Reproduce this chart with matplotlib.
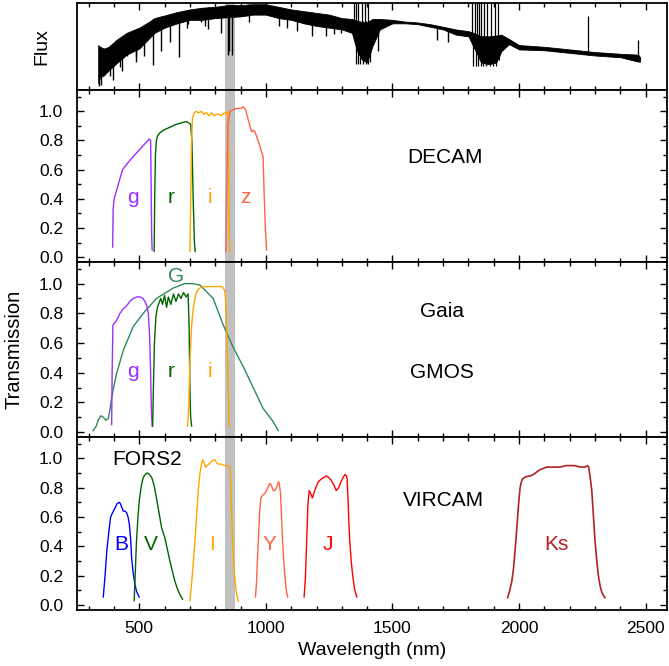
import matplotlib.pyplot as plt
import numpy as np
from matplotlib.ticker import MultipleLocator

plt.rcParams['font.family'] = ['Liberation Sans', 'DejaVu Sans']

# ---- stellar spectrum (arbitrary flux units), envelope of the noisy trace
spec_wl = [338, 345, 360, 380, 410, 450, 500, 540, 560, 600, 650, 700, 750, 800,
           850, 900, 950, 1000, 1050, 1100, 1150, 1200, 1250, 1300, 1340, 1360,
           1380, 1400, 1420, 1450, 1500, 1550, 1600, 1650, 1700, 1750, 1800,
           1820, 1850, 1880, 1910, 1930, 1960, 2000, 2100, 2200, 2300, 2400,
           2470, 2478]
spec_hi = [0.52, 0.50, 0.48, 0.50, 0.58, 0.66, 0.72, 0.79, 0.83, 0.86, 0.90,
           0.93, 0.95, 0.96, 0.98, 0.98, 0.99, 0.99, 0.96, 0.93, 0.91, 0.89,
           0.87, 0.83, 0.82, 0.80, 0.78, 0.78, 0.82, 0.82, 0.81, 0.79, 0.78,
           0.76, 0.73, 0.70, 0.68, 0.66, 0.62, 0.62, 0.63, 0.64, 0.59, 0.52,
           0.50, 0.47, 0.44, 0.42, 0.41, 0.38]
spec_lo = [0.08, 0.15, 0.17, 0.23, 0.31, 0.41, 0.48, 0.60, 0.66, 0.72, 0.77,
           0.81, 0.81, 0.83, 0.84, 0.85, 0.87, 0.87, 0.83, 0.81, 0.77, 0.74,
           0.72, 0.70, 0.66, 0.45, 0.35, 0.32, 0.50, 0.70, 0.77, 0.77, 0.76,
           0.73, 0.70, 0.64, 0.62, 0.50, 0.32, 0.30, 0.32, 0.45, 0.53, 0.47,
           0.46, 0.43, 0.40, 0.38, 0.33, 0.33]
# absorption lines (minimum flux)
dip_wl = [342, 350, 386, 395, 423, 430, 452, 486, 488, 517, 554, 587, 620, 656,
          687, 692, 743, 760, 773, 824, 850, 854, 866, 933, 1050, 1083, 1122,
          1181, 1239, 1268, 1297, 1443, 1676, 1720]
dip_lo = [0.05, 0.06, 0.16, 0.12, 0.27, 0.22, 0.39, 0.38, 0.33, 0.40, 0.29,
          0.45, 0.56, 0.38, 0.72, 0.76, 0.78, 0.74, 0.70, 0.66, 0.41, 0.45,
          0.41, 0.78, 0.74, 0.72, 0.68, 0.62, 0.63, 0.65, 0.66, 0.45, 0.58, 0.56]
# telluric residuals and emission spikes
tell_wl = [1350, 1355, 1357, 1362, 1365, 1370, 1378, 1385, 1392, 1395, 1403,
           1405, 1410, 1815, 1818, 1825, 1830, 1833, 1838, 1842, 1848, 1850,
           1858, 1862, 1870, 1875, 1885, 1890, 1898, 1905, 1910, 1915, 1920,
           2271, 2471]
tell_lo = [0.60, 0.30, 0.55, 0.30, 0.50, 0.30, 0.45, 0.30, 0.45, 0.30, 0.50,
           0.30, 0.32, 0.55, 0.28, 0.50, 0.28, 0.45, 0.28, 0.40, 0.28, 0.40,
           0.28, 0.40, 0.28, 0.40, 0.28, 0.40, 0.28, 0.45, 0.28, 0.50, 0.35,
           0.45, 0.35]
tell_hi = [1.05, 0.80, 1.05, 0.80, 1.05, 0.80, 1.05, 0.80, 1.05, 0.80, 1.05,
           0.80, 0.80, 1.05, 0.62, 1.05, 0.62, 1.05, 0.62, 1.05, 0.62, 1.05,
           0.62, 1.05, 0.62, 1.05, 0.62, 1.05, 0.62, 1.05, 0.62, 1.05, 0.62,
           0.86, 0.58]

# ---- DECam
decam_g_wl = [395, 397, 401, 414, 434, 461, 487, 513, 539, 545, 547, 549, 551]
decam_g_t = [0.07, 0.33, 0.40, 0.48, 0.60, 0.66, 0.71, 0.76, 0.81, 0.80, 0.50, 0.15, 0.05]
decam_r_wl = [559, 561, 564, 568, 572, 580, 595, 620, 645, 665, 685, 697, 703,
              708, 713, 718, 721]
decam_r_t = [0.04, 0.40, 0.70, 0.80, 0.83, 0.85, 0.87, 0.89, 0.91, 0.92, 0.93,
             0.92, 0.91, 0.80, 0.40, 0.10, 0.04]
decam_i_wl = [700, 703, 706, 710, 715, 722, 735, 745, 755, 765, 775, 785, 795,
              805, 815, 825, 835, 845, 850, 853, 856, 858]
decam_i_t = [0.04, 0.35, 0.75, 0.95, 0.98, 1.00, 0.99, 1.00, 0.98, 0.99, 0.97,
             0.99, 0.97, 0.98, 0.98, 0.97, 0.99, 0.98, 1.00, 0.60, 0.15, 0.04]
decam_z_wl = [842, 845, 850, 858, 870, 884, 900, 911, 920, 926, 934, 943, 950,
              957, 965, 975, 983, 989, 993, 998, 1003]
decam_z_t = [0.04, 0.40, 0.90, 1.00, 1.01, 1.02, 1.02, 1.03, 1.01, 0.97, 0.92,
             0.86, 0.87, 0.86, 0.82, 0.77, 0.72, 0.69, 0.45, 0.20, 0.05]

# ---- Gaia G and GMOS
gaia_g_wl = [318, 330, 338, 348, 358, 368, 378, 385, 391, 400, 410, 437, 476,
             516, 568, 634, 680, 710, 740, 792, 832, 871, 911, 950, 989, 1029, 1049]
gaia_g_t = [0.01, 0.04, 0.08, 0.11, 0.10, 0.08, 0.09, 0.16, 0.23, 0.31, 0.39,
            0.55, 0.71, 0.80, 0.90, 0.97, 1.00, 1.00, 0.99, 0.90, 0.72, 0.57,
            0.44, 0.30, 0.16, 0.07, 0.01]
gmos_g_wl = [391, 393, 396, 400, 410, 424, 437, 450, 463, 476, 490, 503, 515,
             522, 530, 536, 541, 545, 548, 551]
gmos_g_t = [0.05, 0.40, 0.72, 0.73, 0.75, 0.80, 0.83, 0.85, 0.88, 0.90, 0.91,
            0.91, 0.90, 0.88, 0.85, 0.80, 0.65, 0.40, 0.15, 0.04]
gmos_r_wl = [553, 556, 560, 566, 572, 578, 585, 592, 600, 608, 615, 625, 635,
             645, 655, 665, 675, 685, 693, 697, 700, 703, 707]
gmos_r_t = [0.04, 0.30, 0.60, 0.78, 0.84, 0.87, 0.90, 0.86, 0.92, 0.84, 0.91,
            0.86, 0.93, 0.88, 0.93, 0.90, 0.94, 0.91, 0.93, 0.70, 0.30, 0.10, 0.04]
gmos_i_wl = [691, 695, 700, 707, 713, 720, 726, 733, 739, 750, 770, 790, 810,
             825, 832, 838, 841, 844, 847, 851, 855]
gmos_i_t = [0.04, 0.15, 0.48, 0.72, 0.83, 0.90, 0.94, 0.96, 0.97, 0.98, 0.98,
            0.98, 0.98, 0.98, 0.97, 0.95, 0.89, 0.75, 0.60, 0.30, 0.04]

# ---- FORS2 and VIRCAM
fors_b_wl = [358, 365, 372, 380, 387, 395, 404, 412, 421, 426, 430, 437, 444,
             450, 456, 461, 466, 470, 476, 483, 490, 500]
fors_b_t = [0.055, 0.20, 0.37, 0.50, 0.60, 0.63, 0.66, 0.69, 0.70, 0.69, 0.67,
            0.64, 0.64, 0.63, 0.60, 0.55, 0.45, 0.32, 0.22, 0.14, 0.09, 0.055]
fors_v_wl = [480, 484, 489, 495, 500, 508, 516, 524, 532, 540, 549, 558, 568,
             578, 588, 595, 601, 611, 621, 631, 641, 651, 661, 671]
fors_v_t = [0.03, 0.20, 0.43, 0.60, 0.71, 0.81, 0.87, 0.89, 0.90, 0.89, 0.87,
            0.82, 0.73, 0.63, 0.53, 0.49, 0.46, 0.38, 0.30, 0.23, 0.16, 0.11,
            0.07, 0.04]
fors_i_wl = [700, 707, 714, 720, 727, 733, 739, 745, 750, 756, 762, 768, 775,
             785, 799, 805, 812, 825, 838, 850, 858, 861, 864, 868, 874, 882, 891]
fors_i_t = [0.03, 0.15, 0.30, 0.43, 0.62, 0.78, 0.89, 0.95, 0.99, 0.97, 0.94,
            0.95, 0.96, 0.98, 0.99, 0.97, 0.96, 0.96, 0.95, 0.95, 0.94, 0.85,
            0.66, 0.45, 0.25, 0.10, 0.025]
vir_y_wl = [959, 963, 966, 970, 975, 980, 988, 996, 1005, 1016, 1023, 1029,
            1036, 1042, 1048, 1051, 1055, 1058, 1062, 1066, 1070, 1075, 1080, 1086]
vir_y_t = [0.055, 0.15, 0.28, 0.43, 0.62, 0.73, 0.75, 0.76, 0.79, 0.83, 0.81,
           0.78, 0.78, 0.80, 0.83, 0.84, 0.80, 0.76, 0.60, 0.43, 0.32, 0.20,
           0.11, 0.055]
vir_j_wl = [1151, 1156, 1161, 1166, 1171, 1177, 1184, 1195, 1207, 1220, 1230,
            1239, 1248, 1258, 1268, 1278, 1288, 1297, 1305, 1313, 1318, 1321,
            1325, 1328, 1332, 1337, 1343, 1350, 1359]
vir_j_t = [0.055, 0.18, 0.43, 0.68, 0.78, 0.76, 0.73, 0.79, 0.84, 0.86, 0.87,
           0.88, 0.87, 0.85, 0.82, 0.78, 0.80, 0.84, 0.87, 0.89, 0.88, 0.86,
           0.70, 0.55, 0.42, 0.30, 0.20, 0.11, 0.055]
vir_ks_wl = [1955, 1963, 1971, 1978, 1984, 1990, 1995, 2000, 2004, 2009, 2014,
             2022, 2030, 2045, 2057, 2080, 2109, 2135, 2162, 2185, 2201, 2220,
             2241, 2260, 2270, 2275, 2278, 2283, 2287, 2293, 2300, 2307, 2313,
             2320, 2326, 2333, 2339]
vir_ks_t = [0.05, 0.10, 0.16, 0.25, 0.37, 0.50, 0.62, 0.73, 0.80, 0.84, 0.86,
            0.87, 0.876, 0.88, 0.89, 0.92, 0.94, 0.94, 0.94, 0.95, 0.95, 0.95,
            0.94, 0.94, 0.95, 0.94, 0.90, 0.84, 0.78, 0.62, 0.43, 0.30, 0.20,
            0.13, 0.09, 0.065, 0.05]

# grey band (Ca triplet region)
band = (840, 880)


def style_axis(ax):
    ax.set_xlim(254, 2584)
    ax.xaxis.set_major_locator(MultipleLocator(500))
    ax.xaxis.set_minor_locator(MultipleLocator(100))
    ax.tick_params(which='both', direction='in', top=True, right=True,
                   labelsize=12.5, width=1.0)
    ax.tick_params(which='major', length=5)
    ax.tick_params(which='minor', length=3)
    ax.tick_params(axis='x', which='major', pad=8)
    ax.tick_params(axis='y', which='major', pad=10)
    for s in ax.spines.values():
        s.set_linewidth(1.3)
    ax.axvspan(band[0], band[1], color='#c0c0c0', lw=0, zorder=0.5)


def trans_axis(ax):
    style_axis(ax)
    ax.set_ylim(-0.034, 1.144)
    ax.yaxis.set_major_locator(MultipleLocator(0.2))
    ax.yaxis.set_minor_locator(MultipleLocator(0.1))
    ax.set_yticks([0.0, 0.2, 0.4, 0.6, 0.8, 1.0])


def curve(ax, wl, t, color, label, lx, ly=0.41, lw=1.0):
    ax.plot(wl, t, color=color, lw=lw, zorder=2)
    ax.text(lx, ly, label, color=color, fontsize=15, ha='center', va='center')


fig = plt.figure(figsize=(6.69, 6.66), dpi=100)
gs = fig.add_gridspec(4, 1, height_ratios=[87, 172, 175, 173], hspace=0,
                      left=0.115, right=0.997, top=0.995, bottom=0.084)
ax0 = fig.add_subplot(gs[0])
ax1 = fig.add_subplot(gs[1], sharex=ax0)
ax2 = fig.add_subplot(gs[2], sharex=ax0)
ax3 = fig.add_subplot(gs[3], sharex=ax0)

# top: spectrum
style_axis(ax0)
ax0.fill_between(spec_wl, spec_lo, spec_hi, color='k', lw=0.6, zorder=1)
dip_top = np.interp(dip_wl, spec_wl, spec_hi)
ax0.vlines(dip_wl, dip_lo, dip_top, color='k', lw=1.0, zorder=1)
ax0.vlines(tell_wl, tell_lo, tell_hi, color='k', lw=0.9, zorder=1)
ax0.set_ylim(0, 1)
ax0.set_yticks([])
ax0.set_ylabel('Flux', fontsize=14)
ax0.yaxis.set_label_coords(-0.045, 0.5)
ax0.tick_params(labelbottom=False)

# DECam
trans_axis(ax1)
curve(ax1, decam_g_wl, decam_g_t, '#9b30ff', 'g', 474)
curve(ax1, decam_r_wl, decam_r_t, 'darkgreen', 'r', 625)
curve(ax1, decam_i_wl, decam_i_t, 'orange', 'i', 779)
curve(ax1, decam_z_wl, decam_z_t, 'tomato', 'z', 917)
ax1.text(1707, 0.685, 'DECAM', fontsize=15, ha='center', va='center')
ax1.tick_params(labelbottom=False)

# Gaia / GMOS
trans_axis(ax2)
curve(ax2, gaia_g_wl, gaia_g_t, 'seagreen', 'G', 647, ly=1.05)
curve(ax2, gmos_g_wl, gmos_g_t, '#9b30ff', 'g', 474)
curve(ax2, gmos_r_wl, gmos_r_t, 'darkgreen', 'r', 625)
curve(ax2, gmos_i_wl, gmos_i_t, 'orange', 'i', 779)
ax2.text(1695, 0.81, 'Gaia', fontsize=15, ha='center', va='center')
ax2.text(1695, 0.40, 'GMOS', fontsize=15, ha='center', va='center')
ax2.tick_params(labelbottom=False)
ax2.set_ylabel('Transmission', fontsize=14.5)
ax2.yaxis.set_label_coords(-0.09, 0.5)

# FORS2 / VIRCAM
trans_axis(ax3)
curve(ax3, fors_b_wl, fors_b_t, 'blue', 'B', 430)
curve(ax3, fors_v_wl, fors_v_t, 'darkgreen', 'V', 546)
curve(ax3, fors_i_wl, fors_i_t, 'orange', 'I', 789)
curve(ax3, vir_y_wl, vir_y_t, 'tomato', 'Y', 1016)
curve(ax3, vir_j_wl, vir_j_t, 'red', 'J', 1246)
curve(ax3, vir_ks_wl, vir_ks_t, 'firebrick', 'Ks', 2149, lw=1.2)
ax3.text(529, 0.99, 'FORS2', fontsize=15, ha='center', va='center')
ax3.text(1701, 0.71, 'VIRCAM', fontsize=15, ha='center', va='center')
ax3.set_xlabel('Wavelength (nm)', fontsize=14)
ax3.xaxis.labelpad = 4

fig.savefig('out.png', dpi=100)
